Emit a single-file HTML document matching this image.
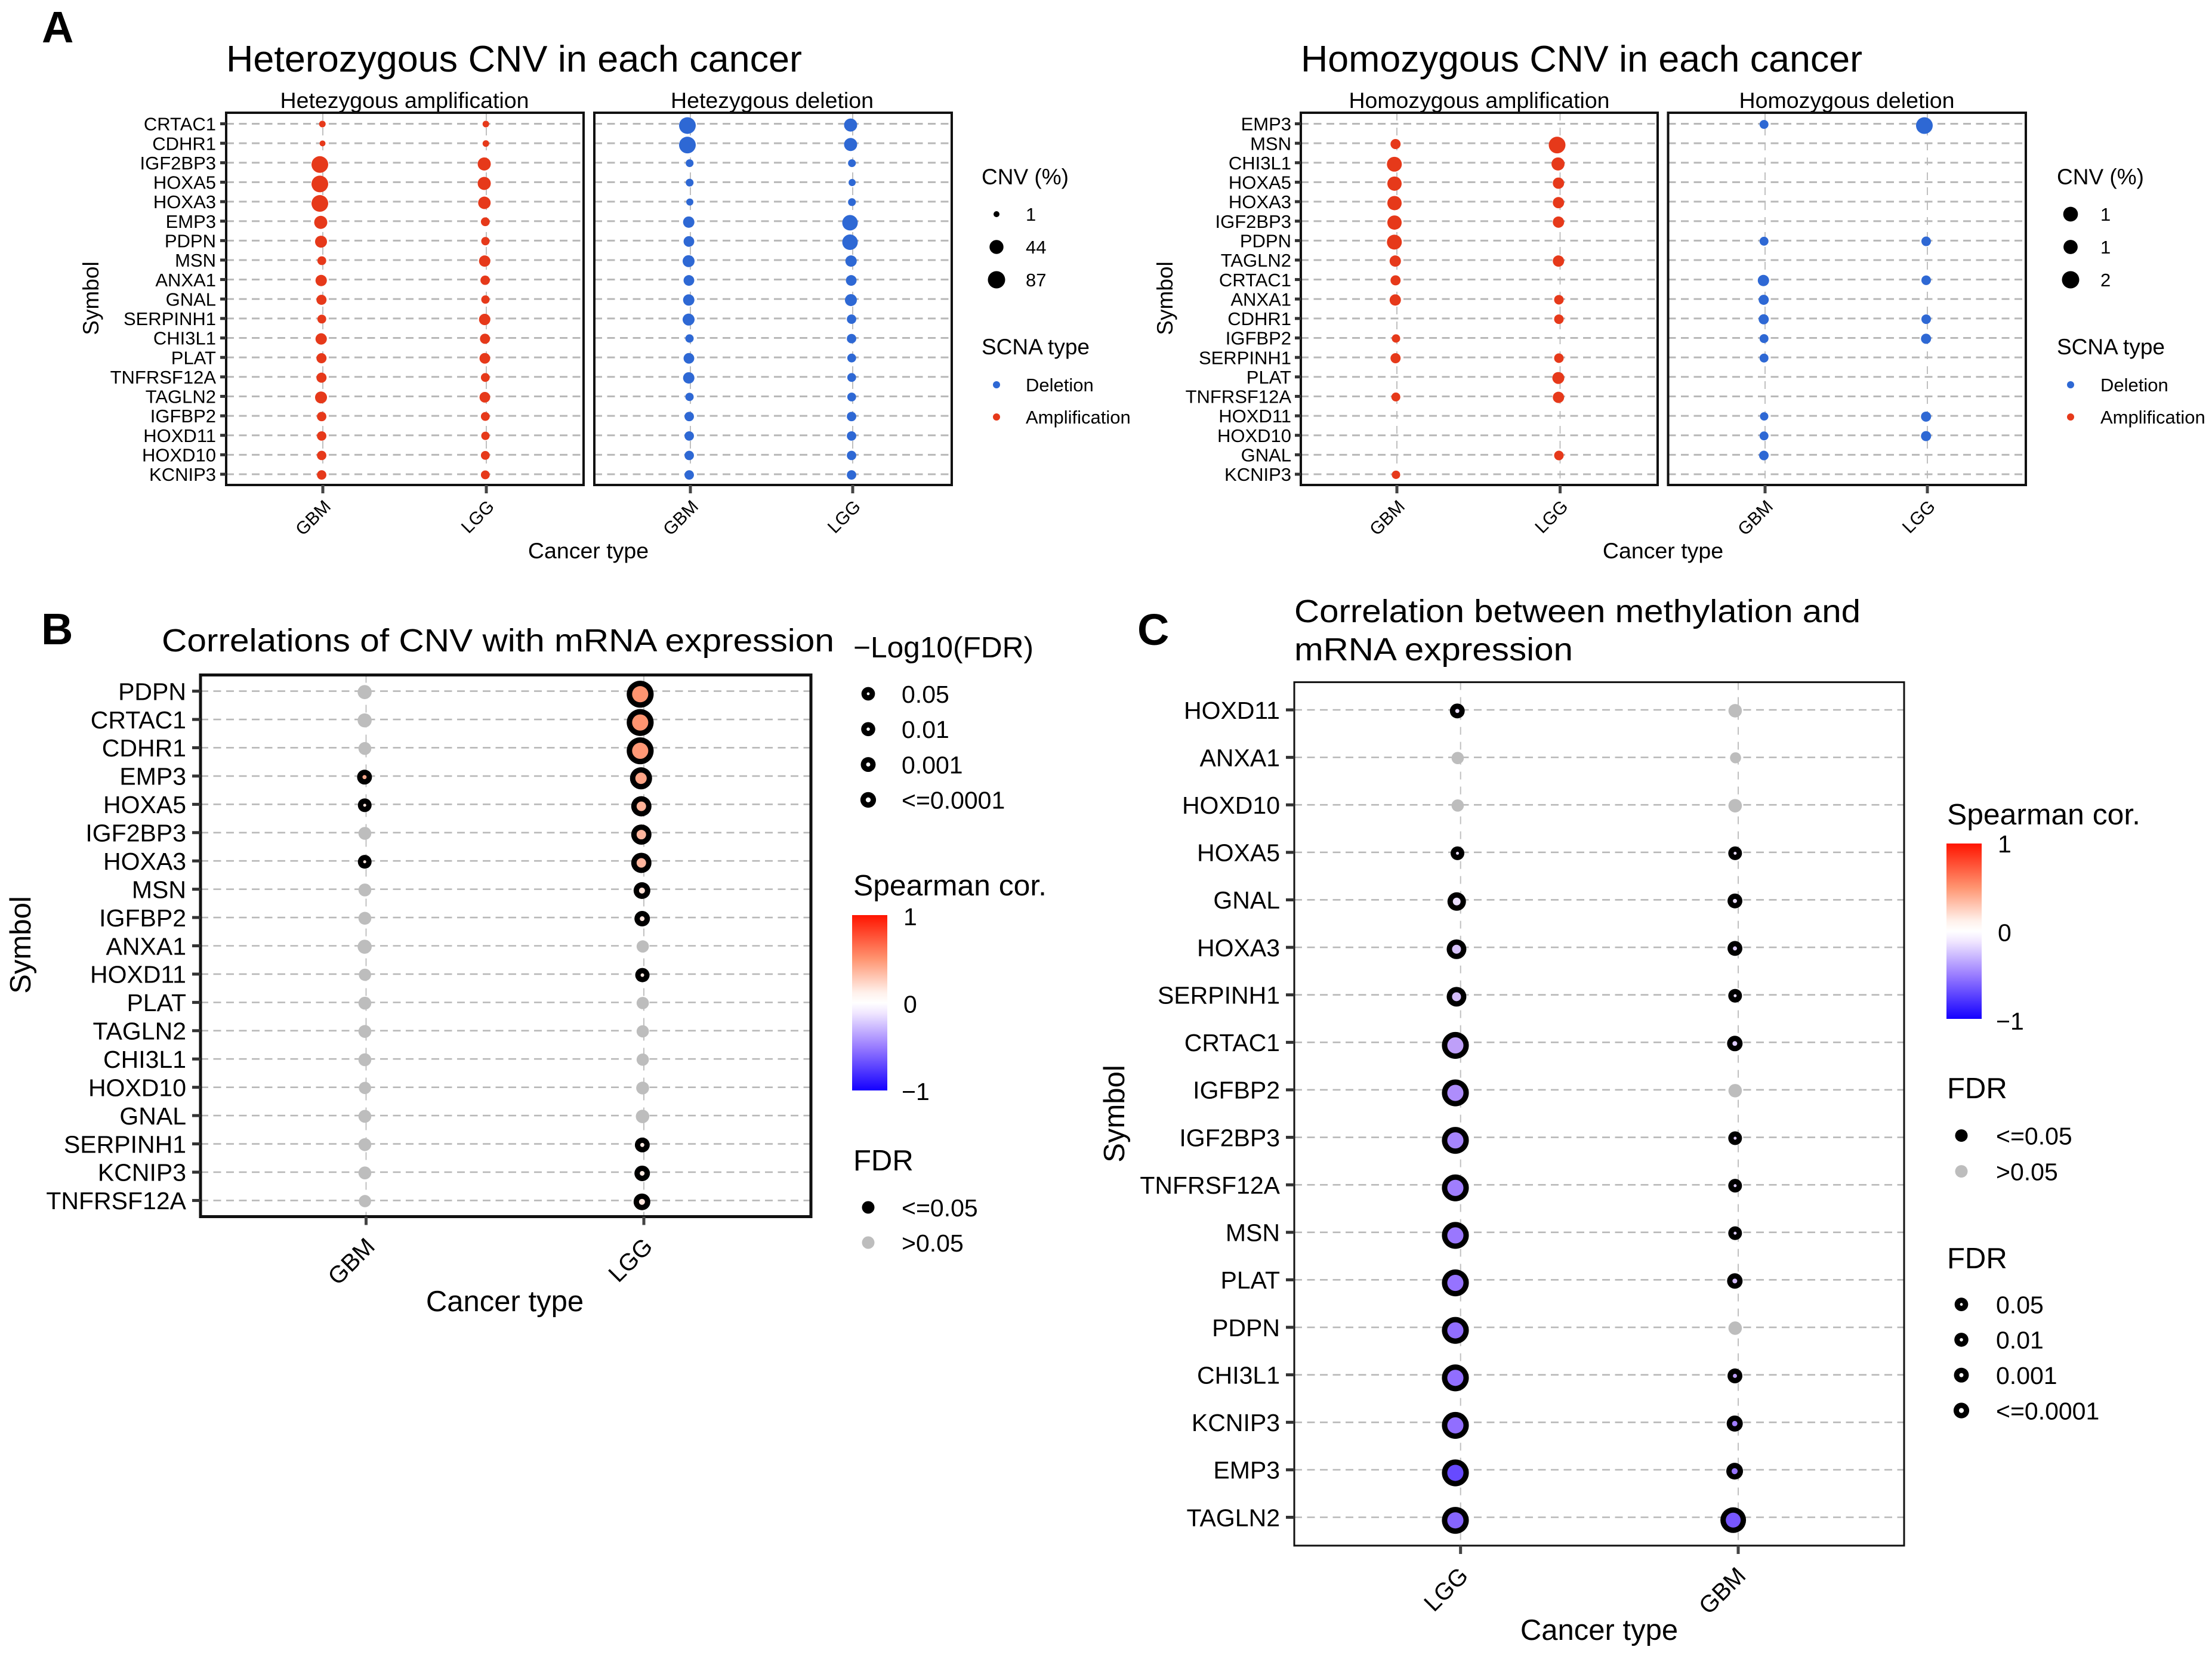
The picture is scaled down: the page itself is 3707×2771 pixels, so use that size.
<!DOCTYPE html>
<html lang="en">
<head>
<meta charset="utf-8">
<title>CNV and methylation correlation dot plots</title>
<style>
html,body{margin:0;padding:0;background:#fff;width:3707px;height:2771px;overflow:hidden}
svg{display:block}
text{font-family:"Liberation Sans",Arial,sans-serif;fill:#000}
</style>
</head>
<body>
<svg id="fig" xmlns="http://www.w3.org/2000/svg" width="3707" height="2771" viewBox="0 0 3707 2771">
  <defs>
    <linearGradient id="corGrad" x1="0" y1="0" x2="0" y2="1">
      <stop offset="0" stop-color="#ff1400"/>
      <stop offset="0.25" stop-color="#ff9470"/>
      <stop offset="0.44" stop-color="#fff0ea"/>
      <stop offset="0.5" stop-color="#ffffff"/>
      <stop offset="0.56" stop-color="#f0e6ff"/>
      <stop offset="0.75" stop-color="#9a7dff"/>
      <stop offset="1" stop-color="#1400ff"/>
    </linearGradient>
  </defs>
  <rect width="3707" height="2771" fill="#fff"/>

  <text x="70" y="71" font-size="74" font-weight="700">A</text>
  <text x="69" y="1080" font-size="74" font-weight="700">B</text>
  <text x="1906" y="1081" font-size="74" font-weight="700">C</text>

  <text x="379" y="120" font-size="62" textLength="965" lengthAdjust="spacingAndGlyphs">Heterozygous CNV in each cancer</text>
  <text x="2180" y="120" font-size="62" textLength="941" lengthAdjust="spacingAndGlyphs">Homozygous CNV in each cancer</text>
  <text x="271" y="1092" font-size="54" textLength="1127" lengthAdjust="spacingAndGlyphs">Correlations of CNV with mRNA expression</text>
  <text x="2169" y="1043" font-size="54" textLength="949" lengthAdjust="spacingAndGlyphs">Correlation between methylation and</text>
  <text x="2169" y="1107" font-size="54" textLength="467" lengthAdjust="spacingAndGlyphs">mRNA expression</text>

  <text x="678" y="181" font-size="37" text-anchor="middle" textLength="417" lengthAdjust="spacingAndGlyphs">Hetezygous amplification</text>
  <text x="1294" y="181" font-size="37" text-anchor="middle" textLength="340" lengthAdjust="spacingAndGlyphs">Hetezygous deletion</text>
  <text x="2479" y="181" font-size="37" text-anchor="middle" textLength="437" lengthAdjust="spacingAndGlyphs">Homozygous amplification</text>
  <text x="3095" y="181" font-size="37" text-anchor="middle" textLength="361" lengthAdjust="spacingAndGlyphs">Homozygous deletion</text>

  <text transform="translate(165,500) rotate(-90)" font-size="37" text-anchor="middle">Symbol</text>
  <text transform="translate(1965,500) rotate(-90)" font-size="37" text-anchor="middle">Symbol</text>
  <text transform="translate(51,1584) rotate(-90)" font-size="49" text-anchor="middle">Symbol</text>
  <text transform="translate(1884,1867) rotate(-90)" font-size="49" text-anchor="middle">Symbol</text>

  <text x="986" y="936" font-size="37.5" text-anchor="middle">Cancer type</text>
  <text x="2787" y="936" font-size="37.5" text-anchor="middle">Cancer type</text>
  <text x="846" y="2198" font-size="49" text-anchor="middle">Cancer type</text>
  <text x="2680" y="2749" font-size="49" text-anchor="middle">Cancer type</text>

  <text x="1645" y="309" font-size="37">CNV (%)</text>
  <text x="1645" y="594" font-size="37">SCNA type</text>
  <text x="3447" y="309" font-size="37">CNV (%)</text>
  <text x="3447" y="594" font-size="37">SCNA type</text>

  <text x="1430" y="1102" font-size="49" textLength="302" lengthAdjust="spacingAndGlyphs">−Log10(FDR)</text>
  <text x="1430" y="1501" font-size="49" textLength="324" lengthAdjust="spacingAndGlyphs">Spearman cor.</text>
  <text x="1430" y="1962" font-size="49">FDR</text>
  <text x="3263" y="1382" font-size="49" textLength="324" lengthAdjust="spacingAndGlyphs">Spearman cor.</text>
  <text x="3263" y="1841" font-size="49">FDR</text>
  <text x="3263" y="2126" font-size="49">FDR</text>

  <rect x="1428" y="1534" width="59" height="294" fill="url(#corGrad)"/>
  <rect x="3262" y="1414" width="59" height="294" fill="url(#corGrad)"/>
</svg>

<script>
/* ---------- Panel A, heterozygous (CNV %) ---------- */
const hetGenes = ['CRTAC1','CDHR1','IGF2BP3','HOXA5','HOXA3','EMP3','PDPN','MSN','ANXA1','GNAL','SERPINH1','CHI3L1','PLAT','TNFRSF12A','TAGLN2','IGFBP2','HOXD11','HOXD10','KCNIP3'];
const hetAmpGBM = [2,1.2,87,87,87,41,30,9,25,16,9,25,16,16,30,12,12,12,12];
const hetAmpLGG = [2,2,41,41,35,9,7,25,12,7,25,16,20,9,20,9,7,9,9];
const hetDelGBM = [87,87,5,5,3,25,20,30,20,25,30,7,20,25,7,12,12,12,12];
const hetDelLGG = [41,41,5,3,5,70,70,25,20,30,12,12,9,9,9,12,12,12,12];
const hetLegendValues = [1,44,87];
const hetLegendLabels = ['1','44','87'];

/* ---------- Panel A, homozygous (CNV %) ---------- */
const homGenes = ['EMP3','MSN','CHI3L1','HOXA5','HOXA3','IGF2BP3','PDPN','TAGLN2','CRTAC1','ANXA1','CDHR1','IGFBP2','SERPINH1','PLAT','TNFRSF12A','HOXD11','HOXD10','GNAL','KCNIP3'];
const homAmpGBM = [null,1.03,1.95,1.84,1.84,1.84,1.95,1.26,1.03,1.26,null,0.7,1.03,null,0.8,null,null,null,0.7];
const homAmpLGG = [null,2.3,1.6,1.26,1.26,1.26,null,1.26,null,0.92,0.92,null,0.92,1.38,1.26,null,null,0.92,null];
const homDelGBM = [0.8,null,null,null,null,null,0.8,null,1.26,1.03,1.03,0.8,0.8,null,null,0.7,0.8,0.92,null];
const homDelLGG = [2.3,null,null,null,null,null,0.92,null,0.92,null,0.92,1.03,null,null,null,1.03,1.03,null,null];
const homLegendValues = [1.8,1.7,2.3];
const homLegendLabels = ['1','1','2'];

const scnaTypes = ['Deletion','Amplification'];

/* ---------- Panel B, CNV vs mRNA ---------- */
const cnvGenes = ['PDPN','CRTAC1','CDHR1','EMP3','HOXA5','IGF2BP3','HOXA3','MSN','IGFBP2','ANXA1','HOXD11','PLAT','TAGLN2','CHI3L1','HOXD10','GNAL','SERPINH1','KCNIP3','TNFRSF12A'];
const cnvGbmLogFdr = [1.25,1.25,0.83,3,1.54,0.83,1.54,0.83,0.83,1.25,0.63,0.83,0.83,0.83,0.63,0.83,0.83,0.83,0.63];
const cnvGbmCor = [0.1,0.1,0.05,0.4,0.12,0.1,0.12,0.05,0.05,0.1,0.05,0.05,0.05,0.05,0.05,0.05,0.05,0.05,0.05];
const cnvLggLogFdr = [65,65,65,39,29,29,29,10,3.85,0.63,2.3,0.63,0.63,0.63,0.83,1.04,3,3.85,10];
const cnvLggCor = [0.5,0.5,0.48,0.42,0.36,0.34,0.34,0.15,0.12,0.05,0.1,0.05,0.05,0.05,0.05,0.05,0.1,0.1,0.12];

/* ---------- Panel C, methylation vs mRNA ---------- */
const methGenes = ['HOXD11','ANXA1','HOXD10','HOXA5','GNAL','HOXA3','SERPINH1','CRTAC1','IGFBP2','IGF2BP3','TNFRSF12A','MSN','PLAT','PDPN','CHI3L1','KCNIP3','EMP3','TAGLN2'];
const methLggLogFdr = [3,0.63,0.63,1.54,19.5,26,26,65,65,65,65,65,65,65,65,65,65,65];
const methLggCor = [-0.1,-0.05,-0.05,-0.1,-0.1,-0.18,-0.2,-0.3,-0.38,-0.42,-0.45,-0.48,-0.5,-0.52,-0.52,-0.52,-0.68,-0.56];
const methGbmLogFdr = [1.04,0.2,1.04,1.54,3,3,1.54,3.85,1.04,1.54,1.54,1.54,3.85,1.04,3,6.6,10,58];
const methGbmCor = [-0.05,-0.05,-0.05,-0.1,-0.1,-0.15,-0.1,-0.15,-0.05,-0.15,-0.15,-0.15,-0.2,-0.05,-0.3,-0.45,-0.5,-0.62];

/* ---------- Shared legend data ---------- */
const fdrLegendValues = [1.3,2,3,4];
const fdrLegendLabels = ['0.05','0.01','0.001','<=0.0001'];
const fdrFlagLabels = ['<=0.05','>0.05'];
const corTicks = [1,0,-1];

const RED = '#e6391a', BLUE = '#2e68d4', GRAY = '#bdbdbd';
const svg = document.getElementById('fig');
const NS = 'http://www.w3.org/2000/svg';

function mk(tag, attrs, parent) {
  const el = document.createElementNS(NS, tag);
  for (const k in attrs) el.setAttribute(k, attrs[k]);
  (parent || svg).appendChild(el);
  return el;
}
function slug(s) { return String(s).toLowerCase().replace(/[^a-z0-9]+/g, '-'); }

/* Axis functions */
function bandY(y0, y1, n) { return i => y0 + (y1 - y0) * i / (n - 1); }

/* Size scales */
function hetRadius(v) { return 4.5 + 9.5 * Math.sqrt(Math.max(v - 1, 0) / 86); }
function homRadius(v) { return 4 + 4.35 * v; }
function ringRadius(v) {
  return 10.5 + 0.65 * Math.min(v, 4) + (v > 4 ? 0.155 * (v - 4) : 0);
}
function grayRadius(v) { return 8.8 + 2.4 * v; }

/* Colour scale for Spearman correlation */
function lerp(a, b, t) { return Math.round(a + (b - a) * t); }
function corColor(c) {
  const pos = [-1, -0.5, -0.25, 0, 0.5, 1];
  const col = [[20,0,255],[150,115,255],[200,170,248],[255,255,255],[255,148,112],[255,20,0]];
  const v = Math.max(-1, Math.min(1, c));
  let i = 0;
  while (i < 4 && v > pos[i + 1]) i++;
  const t = (v - pos[i]) / (pos[i + 1] - pos[i]);
  return `rgb(${lerp(col[i][0], col[i+1][0], t)},${lerp(col[i][1], col[i+1][1], t)},${lerp(col[i][2], col[i+1][2], t)})`;
}

/* Panel frame with grid and ticks */
function drawFrame(prefix, x0, x1, y0, y1, genes, cats, xs, opt) {
  const yAt = bandY(opt.firstRow, opt.lastRow, genes.length);
  const g = mk('g', {});
  
  
  xs.forEach((x, j) => {
    const v = mk('line', {x1:x, x2:x, y1:y0, y2:y1, stroke:'#c0c0c0', 'stroke-width':opt.vGridW, 'stroke-dasharray':'13 12'}, g);
    
    
  });
  genes.forEach((gene, i) => {
    const h = mk('line', {x1:x0, x2:x1, y1:yAt(i), y2:yAt(i), stroke:'#b8b8b8', 'stroke-width':opt.hGridW, 'stroke-dasharray':'13 8.5'}, g);
    
    
  });
  return {g, yAt};
}
function drawBorder(prefix, x0, x1, y0, y1, w) {
  const r = mk('rect', {x:x0, y:y0, width:x1 - x0, height:y1 - y0, fill:'none', stroke:'#111', 'stroke-width':w});
  
  
}
function drawYAxis(prefix, x0, genes, yAt, fontSize, tickLen, tickW, labelGap) {
  genes.forEach((gene, i) => {
    const t = mk('line', {x1:x0 - tickLen, x2:x0, y1:yAt(i), y2:yAt(i), stroke:'#333', 'stroke-width':tickW});
    
    
    const l = mk('text', {x:x0 - labelGap, y:yAt(i) + fontSize * 0.36, 'font-size':fontSize, 'text-anchor':'end'});
    l.textContent = gene;
    
    
  });
}
function drawXAxis(prefix, y1, cats, xs, fontSize, tickW, dx, yEnd, angle) {
  cats.forEach((cat, j) => {
    const t = mk('line', {x1:xs[j], x2:xs[j], y1:y1, y2:y1 + 14, stroke:'#444', 'stroke-width':tickW});
    
    
    const l = mk('text', {transform:`translate(${xs[j] + dx},${yEnd}) rotate(${angle})`, 'font-size':fontSize, 'text-anchor':'end', fill:'#222'});
    l.textContent = cat;
    
    
  });
}

/* CNV series dots */
function drawCnvSeries(prefix, values, genes, x, yAt, radius, color, parent) {
  values.forEach((v, i) => {
    if (v === null) return;
    const r = radius(v);
    const c = mk('circle', {cx:x - (r - 4) * 0.5, cy:yAt(i) + (r - 4) * 0.3, r:r, fill:color}, parent);
    
    
  });
}

/* Ringed correlation dots */
function drawCorSeries(prefix, logs, cors, genes, x, yAt, dxA, dxB, parent) {
  logs.forEach((v, i) => {
    const sig = v >= 1.3;
    const r = sig ? ringRadius(v) : grayRadius(v);
    const cx = x - Math.max(r * dxA + dxB, 0);
    const cy = yAt(i) + Math.max((r - 7) * 0.33, 0);
    const outer = mk('circle', {cx:cx, cy:cy, r:r, fill:sig ? '#000' : GRAY}, parent);
    
    
    if (sig) {
      const inner = mk('circle', {cx:cx, cy:cy, r:Math.max(r - 9, 1.5), fill:corColor(cors[i])}, parent);
      
      
    }
  });
}

function legendLabel(name, x, y, txt, size) {
  const l = mk('text', {x:x, y:y + size * 0.36, 'font-size':size});
  l.textContent = txt;
  
  
}

/* ---------- Draw panel A ---------- */
const abCats = ['GBM','LGG'];
function drawCnvBlock(prefix, x0, x1, genes, xs, series, color, radius) {
  const f = drawFrame(prefix, x0, x1, 189, 813, genes, abCats, xs, {firstRow:207.5, lastRow:795, vGridW:2, hGridW:3});
  series.forEach((vals, j) => {
    drawCnvSeries(prefix + '-' + slug(abCats[j]), vals, genes, xs[j], f.yAt, radius, color, f.g);
  });
  drawBorder(prefix, x0, x1, 189, 813, 4);
  drawXAxis(prefix, 813, abCats, xs, 30, 5, 15, 851, -45);
  return f.yAt;
}
const yHet = drawCnvBlock('het-amp', 379, 978, hetGenes, [541, 815], [hetAmpGBM, hetAmpLGG], RED, hetRadius);
drawCnvBlock('het-del', 996, 1595, hetGenes, [1157, 1429], [hetDelGBM, hetDelLGG], BLUE, hetRadius);
drawYAxis('het', 379, hetGenes, yHet, 31, 10, 5, 17);
const yHom = drawCnvBlock('hom-amp', 2180, 2778, homGenes, [2341, 2614.5], [homAmpGBM, homAmpLGG], RED, homRadius);
drawCnvBlock('hom-del', 2795.5, 3395, homGenes, [2958, 3230], [homDelGBM, homDelLGG], BLUE, homRadius);
drawYAxis('hom', 2180, homGenes, yHom, 31, 10, 5, 16);

function drawCnvLegend(prefix, keyX, labelX, vals, labels, radius) {
  vals.forEach((v, i) => {
    const cy = 359 + 55 * i;
    const k = mk('circle', {cx:keyX, cy:cy, r:radius(v) + 0.5, fill:'#000'});
    
    
    legendLabel(prefix + '-size-label-' + i, labelX, cy, labels[i], 31);
  });
  scnaTypes.forEach((name, i) => {
    const cy = 645 + 54 * i;
    const k = mk('circle', {cx:keyX, cy:cy, r:6, fill:i === 0 ? BLUE : RED});
    
    
    legendLabel(prefix + '-type-label-' + slug(name), labelX, cy, name, 31);
  });
}
drawCnvLegend('het', 1670, 1719, hetLegendValues, hetLegendLabels, hetRadius);
drawCnvLegend('hom', 3470, 3520, homLegendValues, homLegendLabels, homRadius);

/* ---------- Draw panel B ---------- */
const cnvXs = [613.5, 1079];
const cnvFrame = drawFrame('cnv', 336, 1359, 1131.5, 2039.5, cnvGenes, abCats, cnvXs, {firstRow:1158.6, lastRow:2012.4, vGridW:2, hGridW:2.6});
drawCorSeries('cnv-gbm', cnvGbmLogFdr, cnvGbmCor, cnvGenes, cnvXs[0], cnvFrame.yAt, 0.35, -1.75, cnvFrame.g);
drawCorSeries('cnv-lgg', cnvLggLogFdr, cnvLggCor, cnvGenes, cnvXs[1], cnvFrame.yAt, 0.35, -1.75, cnvFrame.g);
drawBorder('cnv', 336, 1359, 1131.5, 2039.5, 5);
drawYAxis('cnv', 336, cnvGenes, cnvFrame.yAt, 41, 14, 5, 24);
drawXAxis('cnv', 2039.5, abCats, cnvXs, 40, 5, 17, 2092, -45);

/* ---------- Draw panel C ---------- */
const methCats = ['LGG','GBM'];
const methXs = [2447.7, 2913];
const methFrame = drawFrame('meth', 2169, 3191, 1143.6, 2591, methGenes, methCats, methXs, {firstRow:1190, lastRow:2543.5, vGridW:2, hGridW:2.6});
drawCorSeries('meth-lgg', methLggLogFdr, methLggCor, methGenes, methXs[0], methFrame.yAt, 0.32, 1.5, methFrame.g);
drawCorSeries('meth-gbm', methGbmLogFdr, methGbmCor, methGenes, methXs[1], methFrame.yAt, 0.32, 1.5, methFrame.g);
drawBorder('meth', 2169, 3191, 1143.6, 2591, 3);
drawYAxis('meth', 2169, methGenes, methFrame.yAt, 41, 14, 5, 24);
drawXAxis('meth', 2591, methCats, methXs, 40, 5, 15, 2644, -45);

/* ---------- Legends for B and C ---------- */
function drawRingLegend(prefix, keyX, labelX, startY, stepY) {
  fdrLegendValues.forEach((v, i) => {
    const cy = startY + stepY * i;
    const r = ringRadius(v);
    const o = mk('circle', {cx:keyX, cy:cy, r:r, fill:'#000'});
    
    
    const c = mk('circle', {cx:keyX, cy:cy, r:Math.max(r - 9, 1.5), fill:'#fff'});
    
    
    legendLabel(prefix + '-ring-label-' + i, labelX, cy, fdrLegendLabels[i], 41);
  });
}
function drawFlagLegend(prefix, keyX, labelX, startY, stepY) {
  fdrFlagLabels.forEach((txt, i) => {
    const cy = startY + stepY * i;
    const k = mk('circle', {cx:keyX, cy:cy, r:10.5, fill:i === 0 ? '#000' : GRAY});
    
    
    legendLabel(prefix + '-fdr-label-' + i, labelX, cy, txt, 41);
  });
}
function drawCorTicks(prefix, x, yTop, yBottom) {
  corTicks.forEach(t => {
    const y = yTop + (1 - t) / 2 * (yBottom - yTop);
    legendLabel(prefix + '-colorbar-label-' + slug(t), t === -1 ? x : x + 3, y, t === -1 ? '\u22121' : String(t), 41);
  });
}
drawRingLegend('cnv', 1455, 1511, 1163, 59.3);
drawFlagLegend('cnv', 1455, 1511, 2024, 59);
drawCorTicks('cnv', 1511, 1536, 1829);
drawRingLegend('meth', 3287, 3345, 2186.6, 59.3);
drawFlagLegend('meth', 3287, 3345, 1903.6, 60);
drawCorTicks('meth', 3345, 1414, 1711);
</script>
</body>
</html>
